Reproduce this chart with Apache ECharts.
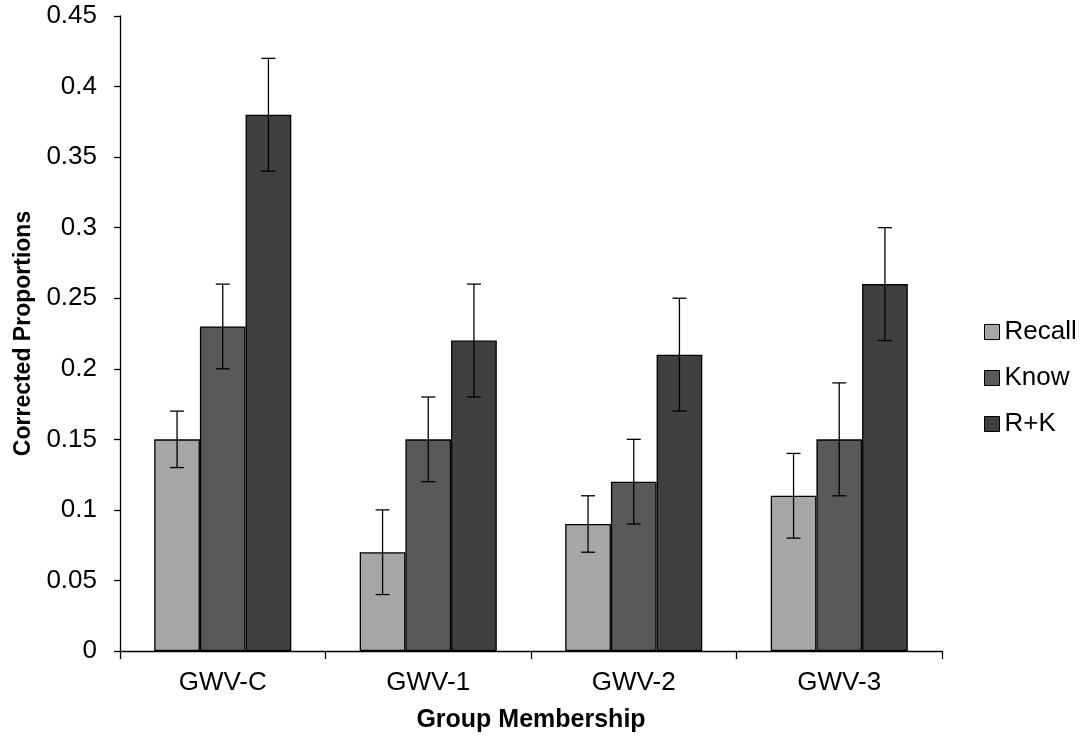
<!DOCTYPE html>
<html><head><meta charset="utf-8">
<script src="https://cdn.jsdelivr.net/npm/echarts@6/dist/echarts.min.js"></script>
<style>html,body{margin:0;padding:0;background:#fff}#c{width:1081px;height:738px}</style>
</head><body><div id="c"></div>
<script>
const categories = ['GWV-C','GWV-1','GWV-2','GWV-3'];
const seriesNames = ['Recall','Know','R+K'];
const recall = [0.15, 0.07, 0.09, 0.11];
const know = [0.23, 0.15, 0.12, 0.15];
const rk = [0.38, 0.22, 0.21, 0.26];
const recallErr = [0.02, 0.03, 0.02, 0.03];
const knowErr = [0.03, 0.03, 0.03, 0.04];
const rkErr = [0.04, 0.04, 0.04, 0.04];
const yTicks = [0, 0.05, 0.1, 0.15, 0.2, 0.25, 0.3, 0.35, 0.4, 0.45];
const colors = ['#a6a6a6','#595959','#404040'];

const values = [recall, know, rk];
const errs = [recallErr, knowErr, rkErr];
const barFrac = 0.667;
const font = 'Liberation Sans, Arial, sans-serif';

const chart = echarts.init(document.getElementById('c'));
const series = [];
values.forEach((v, i) => {
  series.push({
    name: seriesNames[i], type: 'bar', data: v,
    barGap: '0%', barCategoryGap: '33.3%',
    itemStyle: { color: colors[i], borderColor: '#000', borderWidth: 1.3 },
    emphasis: { disabled: true }, z: 2
  });
});
values.forEach((v, i) => {
  series.push({
    type: 'custom', z: 5, silent: true,
    data: v.map((val, j) => [j, val - errs[i][j], val + errs[i][j]]),
    renderItem: function (params, api) {
      const band = api.size([1, 0])[0];
      const bw = band * barFrac / 3;
      const off = (i - 1) * bw;
      const lo = api.coord([api.value(0), api.value(1)]);
      const hi = api.coord([api.value(0), api.value(2)]);
      const x = lo[0] + off;
      const cap = 7;
      const st = { stroke: '#000', lineWidth: 1.3 };
      return { type: 'group', children: [
        { type: 'line', shape: { x1: x, y1: lo[1], x2: x, y2: hi[1] }, style: st },
        { type: 'line', shape: { x1: x - cap, y1: lo[1], x2: x + cap, y2: lo[1] }, style: st },
        { type: 'line', shape: { x1: x - cap, y1: hi[1], x2: x + cap, y2: hi[1] }, style: st }
      ]};
    }
  });
});

chart.setOption({
  animation: false,
  backgroundColor: '#fff',
  grid: { left: 120, right: 139, top: 16, bottom: 86, containLabel: false },
  legend: {
    data: seriesNames, orient: 'vertical', left: 984, top: 319, padding: 0,
    itemWidth: 15, itemHeight: 15, itemGap: 20,
    textStyle: { fontFamily: font, fontSize: 26, lineHeight: 26, color: '#000' },
    itemStyle: { borderColor: '#000', borderWidth: 1 },
    icon: 'rect'
  },
  xAxis: {
    type: 'category', data: categories,
    name: 'Group Membership', nameLocation: 'middle', nameGap: 57,
    nameTextStyle: { fontFamily: font, fontSize: 25, fontWeight: 'bold', color: '#000' },
    axisLine: { lineStyle: { color: '#000', width: 1.3 } },
    axisTick: { show: true, length: 8, lineStyle: { color: '#000', width: 1.3 } },
    axisLabel: { fontFamily: font, fontSize: 26, color: '#000', margin: 19 },
    splitLine: { show: false }
  },
  yAxis: {
    type: 'value', min: yTicks[0], max: yTicks[yTicks.length - 1], interval: 0.05,
    name: 'Corrected Proportions', nameLocation: 'middle', nameGap: 84,
    nameTextStyle: { fontFamily: font, fontSize: 23, fontWeight: 'bold', color: '#000' },
    axisLine: { show: true, lineStyle: { color: '#000', width: 1.3 } },
    axisTick: { show: true, length: 6, lineStyle: { color: '#000', width: 1.3 } },
    axisLabel: { fontFamily: font, fontSize: 26, color: '#000', margin: 23,
      formatter: v => String(parseFloat(v.toFixed(2))) },
    splitLine: { show: false }
  },
  series: series
});
</script></body></html>
